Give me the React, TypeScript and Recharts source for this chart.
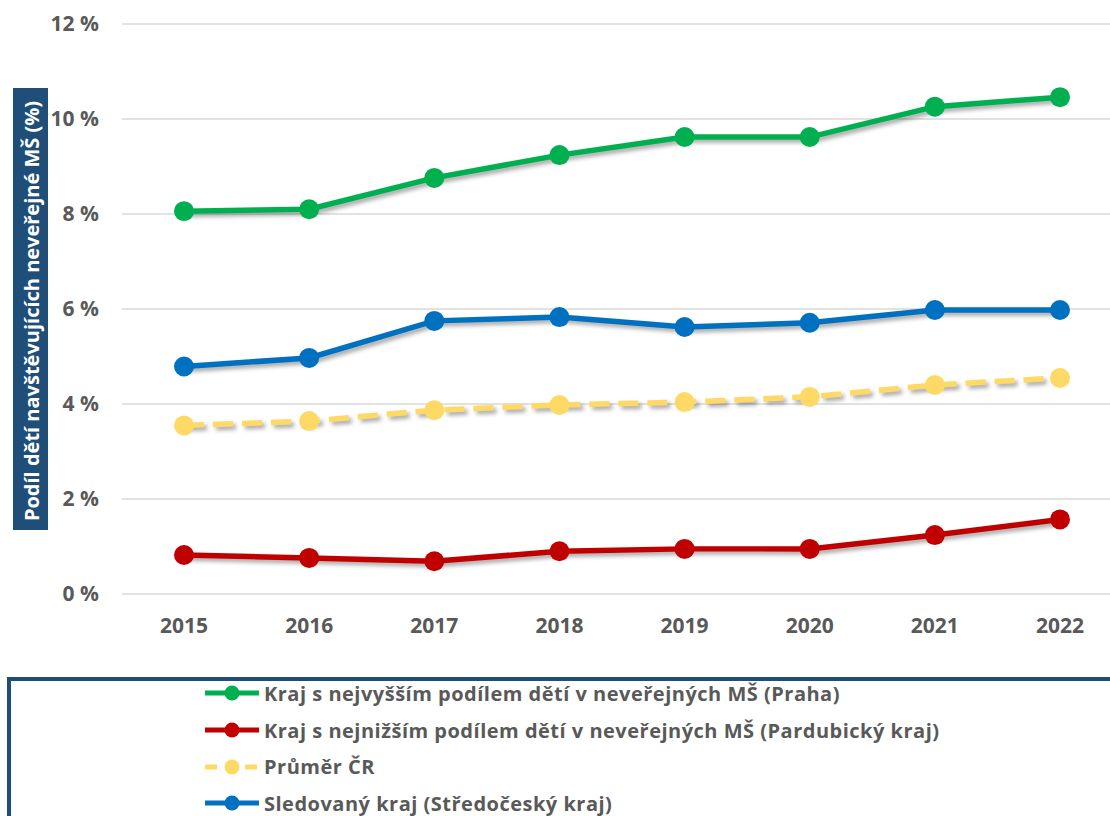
import {
  LineChart,
  Line,
  XAxis,
  YAxis,
  CartesianGrid,
  Legend,
} from "recharts";

const years = ["2015", "2016", "2017", "2018", "2019", "2020", "2021", "2022"];
// Kraj s nejvyšším podílem (Praha)
const praha = [8.06, 8.1, 8.76, 9.24, 9.62, 9.62, 10.26, 10.46];
// Kraj s nejnižším podílem (Pardubický kraj)
const pardubice = [0.82, 0.76, 0.69, 0.9, 0.95, 0.95, 1.24, 1.57];
// Průměr ČR
const prumer = [3.55, 3.64, 3.87, 3.98, 4.04, 4.15, 4.4, 4.55];
// Sledovaný kraj (Středočeský kraj)
const stredocesky = [4.79, 4.97, 5.75, 5.83, 5.62, 5.71, 5.98, 5.98];
const yTicks = [0, 2, 4, 6, 8, 10, 12];

const data = years.map((year, i) => ({
  year,
  praha: praha[i],
  pardubice: pardubice[i],
  prumer: prumer[i],
  stredocesky: stredocesky[i],
}));

const series = [
  { key: "praha", label: "Kraj s nejvyšším podílem dětí v neveřejných MŠ (Praha)", color: "#00B050", dashed: false },
  { key: "pardubice", label: "Kraj s nejnižším podílem dětí v neveřejných MŠ (Pardubický kraj)", color: "#C00000", dashed: false },
  { key: "prumer", label: "Průměr ČR", color: "#FFD966", dashed: true },
  { key: "stredocesky", label: "Sledovaný kraj (Středočeský kraj)", color: "#0070C0", dashed: false },
];

const textColor = "#595959";

const LegendBox = () => (
  <div
    style={{
      width: "100%",
      height: "100%",
      boxSizing: "border-box",
      border: "4px solid #1F4E79",
      background: "#fff",
      paddingLeft: 192,
    }}
  >
    <div style={{ marginTop: -6 }}>
      {series.map((s) => (
        <div key={s.key} style={{ display: "flex", alignItems: "center", height: 36.7 }}>
          <svg width={58} height={20} style={{ marginRight: 3 }}>
            <line
              x1={2}
              x2={56}
              y1={10}
              y2={10}
              stroke={s.color}
              strokeWidth={5}
              strokeDasharray={s.dashed ? "12 8" : undefined}
            />
            <circle cx={29} cy={10} r={7.5} fill={s.color} />
          </svg>
          <span style={{ color: textColor, fontWeight: 700, fontSize: 20, letterSpacing: 0.5 }}>
            {s.label}
          </span>
        </div>
      ))}
    </div>
  </div>
);

const AxisTitle = () => (
  <g>
    <rect x={13} y={88} width={35} height={442} fill="#1F4E79" />
    <text
      x={31}
      y={311}
      transform="rotate(-90 31 311)"
      textAnchor="middle"
      dominantBaseline="central"
      fill="#fff"
      fontSize={20}
      fontWeight={700}
    >
      Podíl dětí navštěvujících neveřejné MŠ (%)
    </text>
  </g>
);

export default function App() {
  return (
    <div
      style={{
        position: "absolute",
        left: 0,
        top: 0,
        width: 1110,
        height: 816,
        overflow: "hidden",
        background: "#fff",
        fontFamily: "'Open Sans', sans-serif",
      }}
    >
      <style>{`.recharts-line { filter: drop-shadow(3px 3px 2px rgba(0,0,0,0.35)); }`}</style>
      <LineChart
        width={1130}
        height={816}
        data={data}
        margin={{ top: 24, right: 8, left: 12, bottom: 182 }}
      >
        <CartesianGrid vertical={false} stroke="#D9D9D9" strokeWidth={1.5} />
        <XAxis
          dataKey="year"
          axisLine={false}
          tickLine={false}
          height={40}
          tickMargin={18}
          padding={{ left: 62, right: 62 }}
          tick={{ fill: textColor, fontSize: 21, fontWeight: 700 }}
        />
        <YAxis
          width={110}
          domain={[0, 12]}
          ticks={yTicks}
          axisLine={false}
          tickLine={false}
          tickMargin={17}
          tickFormatter={(v) => `${v} %`}
          tick={{ fill: textColor, fontSize: 21, fontWeight: 700 }}
          label={{ content: () => <AxisTitle /> }}
        />
        {series.map((s) => (
          <Line
            key={s.key}
            dataKey={s.key}
            name={s.label}
            stroke={s.color}
            strokeWidth={5.5}
            strokeDasharray={s.dashed ? "20 9" : undefined}
            dot={{ r: 10, fill: s.color, stroke: "none" }}
            activeDot={false}
            isAnimationActive={false}
          />
        ))}
        <Legend
          layout="horizontal"
          verticalAlign="middle"
          align="center"
          wrapperStyle={{ position: "absolute", left: 7, top: 677, width: 1200, height: 200 }}
          content={() => <LegendBox />}
        />
      </LineChart>
    </div>
  );
}
